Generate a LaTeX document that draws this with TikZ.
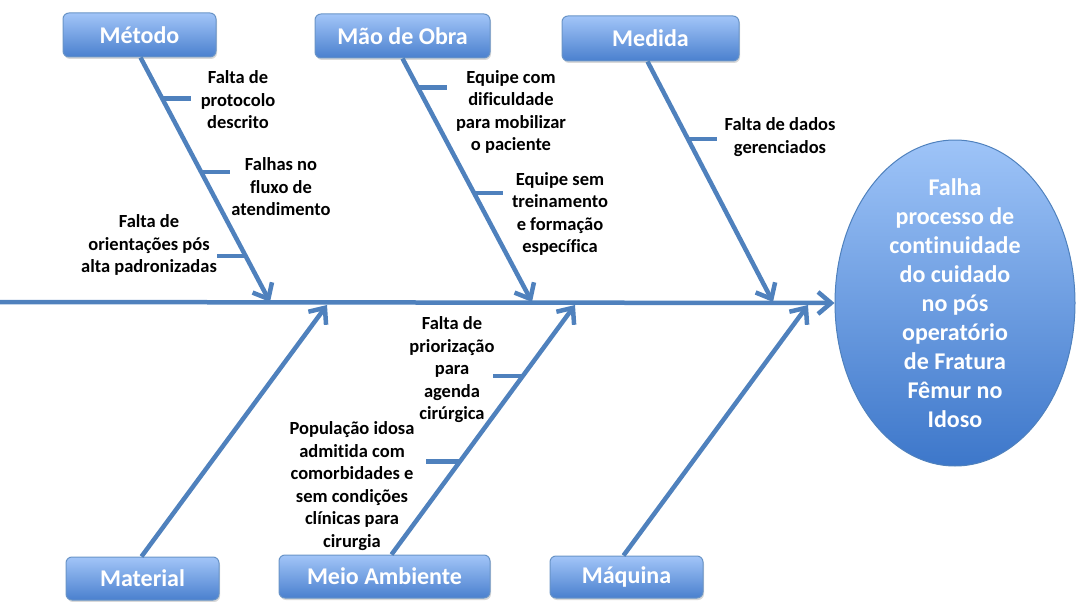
\documentclass[tikz,border=0pt]{standalone}
\usepackage{fontspec}
\setmainfont[Ligatures=NoCommon]{Carlito}
\usetikzlibrary{arrows.meta,shapes.geometric,shadows}
\definecolor{espinha}{HTML}{4F81BD}
\definecolor{caixatopo}{HTML}{A2C5F8}
\definecolor{caixabase}{HTML}{4A80CE}
\definecolor{elipsetopo}{HTML}{9EC4F8}
\definecolor{elipsebase}{HTML}{3D77CA}
\newcommand{\pequena}{\bfseries\fontsize{18.5}{22.5}\selectfont}
\newcommand{\grande}{\bfseries\fontsize{24}{29}\selectfont}

\begin{document}
\begin{tikzpicture}[x=1pt,y=-1pt,
    causa/.style={draw=espinha!85!white,line width=1pt,rounded corners=6pt,
      top color=caixatopo,bottom color=caixabase,text=white,font=\grande,
      inner sep=0pt,minimum height=44pt,
      drop shadow={opacity=0.3,shadow xshift=1pt,shadow yshift=-2pt}},
    osso/.style={draw=espinha,line width=4.5pt},
    seta/.style={osso,-{Straight Barb[length=13pt,width=22pt]}},
    nota/.style={align=center,font=\pequena,inner sep=0pt}]
  \useasboundingbox (0,0) rectangle (1077,602);

  % categorias de cima
  \node[causa,minimum width=153pt] (Metodo) at (139.5,35) {Método};
  \node[causa,minimum width=175pt] (MaoObra) at (402.5,36) {Mão de Obra};
  \node[causa,minimum width=177pt,minimum height=45pt] (Medida) at (650.5,38.5) {Medida};
  % categorias de baixo
  \node[causa,minimum width=153pt,minimum height=43pt] (Material) at (142.5,578.5) {Material};
  \node[causa,minimum width=211pt,minimum height=43pt] (MeioAmb) at (384.5,576.5) {Meio Ambiente};
  \node[causa,minimum width=153pt,minimum height=42pt] (Maquina) at (626.5,577) {Máquina};

  % efeito
  \node[ellipse,draw=espinha,line width=1pt,top color=elipsetopo,bottom color=elipsebase,
    minimum width=240pt,minimum height=326pt] (Falha) at (955,303) {};
  \node[align=center,text=white,font=\grande] (FalhaTexto) at (Falha.center)
    {Falha\\processo de\\continuidade\\do cuidado\\no pós\\operatório\\de Fratura\\Fêmur no\\Idoso};

  % espinha
  \coordinate (inicio) at (0,302);
  \draw[seta] (inicio) -- (Falha.west);

  % pontas na espinha
  \coordinate (pMetodo) at (270,302);
  \coordinate (pMaoObra) at (532,302);
  \coordinate (pMedida) at (773,302);
  \coordinate (pMaterial) at (327,305);
  \coordinate (pMeioAmb) at (575,305);
  \coordinate (pMaquina) at (808,305);

  \draw[seta] ([xshift=1pt]Metodo.south) -- (pMetodo)
    coordinate[pos=0.167] (m1) coordinate[pos=0.469] (m2) coordinate[pos=0.812] (m3);
  \draw[seta] (MaoObra.south) -- (pMaoObra)
    coordinate[pos=0.119] (o1) coordinate[pos=0.553] (o2);
  \draw[seta] ([xshift=-3pt]Medida.south) -- (pMedida)
    coordinate[pos=0.322] (d1);
  \draw[seta] ([xshift=-1pt]Material.north) -- (pMaterial);
  \draw[seta] ([xshift=7pt]MeioAmb.north) -- (pMeioAmb)
    coordinate[pos=0.715] (a1) coordinate[pos=0.373] (a2);
  \draw[seta] ([xshift=-3pt]Maquina.north) -- (pMaquina);

  % ossos menores
  \draw[osso] (m1) -- ++(29,0) coordinate (m1f);
  \draw[osso] (m2) -- ++(29,0) coordinate (m2f);
  \draw[osso] (m3) -- ++(-29,0) coordinate (m3f);
  \draw[osso] (o1) -- ++(29,0) coordinate (o1f);
  \draw[osso] (o2) -- ++(29,0) coordinate (o2f);
  \draw[osso] (d1) -- ++(29,0) coordinate (d1f);
  \draw[osso] (a1) -- ++(-30,0) coordinate (a1f);
  \draw[osso] (a2) -- ++(-34,0) coordinate (a2f);

  % causas
  \node[nota] (t1) at (238,100) {Falta de\\protocolo\\descrito};
  \node[nota] (t2) at (281,187) {Falhas no\\fluxo de\\atendimento};
  \node[nota] (t3) at (149,245) {Falta de\\orientações pós\\alta padronizadas};
  \node[nota] (t4) at (511,112) {Equipe com\\dificuldade\\para mobilizar\\o paciente};
  \node[nota] (t5) at (560,214) {Equipe sem\\treinamento\\e formação\\específica};
  \node[nota] (t6) at (780,137) {Falta de dados\\gerenciados};
  \node[nota] (t7) at (452,370) {Falta de\\priorização\\para\\agenda\\cirúrgica};
  \node[nota] (t8) at (352,486) {População idosa\\admitida com\\comorbidades e\\sem condições\\clínicas para\\cirurgia};
\end{tikzpicture}
\end{document}
